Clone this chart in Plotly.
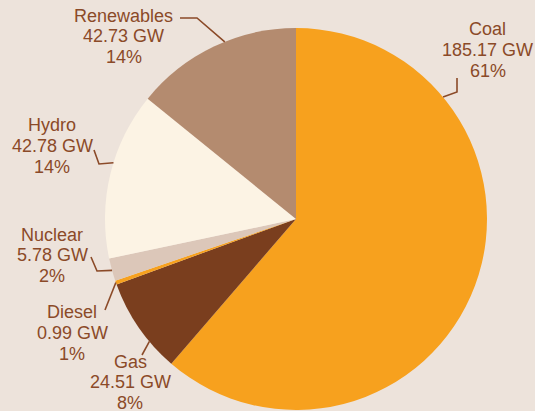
import math
import plotly.graph_objects as go

# ---------------- data ----------------
categories = ["Coal", "Gas", "Diesel", "Nuclear", "Hydro", "Renewables"]
capacity_gw = [185.17, 24.51, 0.99, 5.78, 42.78, 42.73]
share_labels = ["61%", "8%", "1%", "2%", "14%", "14%"]

# ---------------- style ----------------
W, H = 535, 411
CX, CY, R = 296, 219, 191
BG = "#EDE3DB"
TEXT = "#8B4A28"
slice_colors = ["#F7A11E", "#7A3E1E", "#F7A11E", "#DCC7B9", "#FCF3E4", "#B48B6F"]
FONT = "Liberation Sans, Arial, sans-serif"
FS = 18
LINE = 20.8

# label placement: text centre x, first-line y, leader anchor (fraction within slice), leader bends
label_style = {
    "Coal":       dict(x=488, y=29.5, frac=0.228, bends=[(457, 92), (457, 78)]),
    "Gas":        dict(x=130, y=361.5, frac=0.32, bends=[(142, 355)]),
    "Diesel":     dict(x=72, y=312, frac=0.5, bends=[(105, 310)]),
    "Nuclear":    dict(x=52, y=234.5, frac=0.47, bends=[(97, 271), (91, 257)]),
    "Hydro":      dict(x=52, y=125, frac=0.57, bends=[(99, 164), (94, 150)]),
    "Renewables": dict(x=123.5, y=15.5, frac=0.57, bends=[(197, 18), (180, 18)]),
}


def px(x):
    return x / W


def py(y):
    return 1 - y / H


fig = go.Figure(
    go.Pie(
        labels=categories,
        values=capacity_gw,
        sort=False,
        direction="clockwise",
        rotation=0,
        marker=dict(colors=slice_colors, line=dict(width=0)),
        textinfo="none",
        hoverinfo="label+value+percent",
        showlegend=False,
        domain=dict(x=[px(CX - R), px(CX + R)], y=[py(CY + R), py(CY - R)]),
    )
)

total = sum(capacity_gw)
start = 0.0
shapes = []
annotations = []
for cat, val, share in zip(categories, capacity_gw, share_labels):
    span = val / total * 360.0
    st = label_style[cat]
    ang = math.radians(start + st["frac"] * span)
    ax = CX + R * math.sin(ang)
    ay = CY - R * math.cos(ang)
    pts = [(ax, ay)] + st["bends"]
    path = "M " + " L ".join(f"{px(x):.5f},{py(y):.5f}" for x, y in pts)
    shapes.append(dict(type="path", xref="paper", yref="paper", path=path,
                       line=dict(color=TEXT, width=1.6)))
    lines = [cat, f"{val:.2f} GW", share]
    for i, t in enumerate(lines):
        annotations.append(dict(
            text=t, x=px(st["x"]), y=py(st["y"] + i * LINE),
            xref="paper", yref="paper", xanchor="center", yanchor="middle",
            showarrow=False, font=dict(family=FONT, size=FS, color=TEXT),
        ))
    start += span

fig.update_layout(
    width=W, height=H,
    margin=dict(l=0, r=0, t=0, b=0),
    paper_bgcolor=BG, plot_bgcolor=BG,
    shapes=shapes, annotations=annotations,
)

fig.write_html(
    "out.html",
    config={"displayModeBar": False},
    post_script="document.body.style.margin='0';document.body.style.overflow='hidden';",
)
